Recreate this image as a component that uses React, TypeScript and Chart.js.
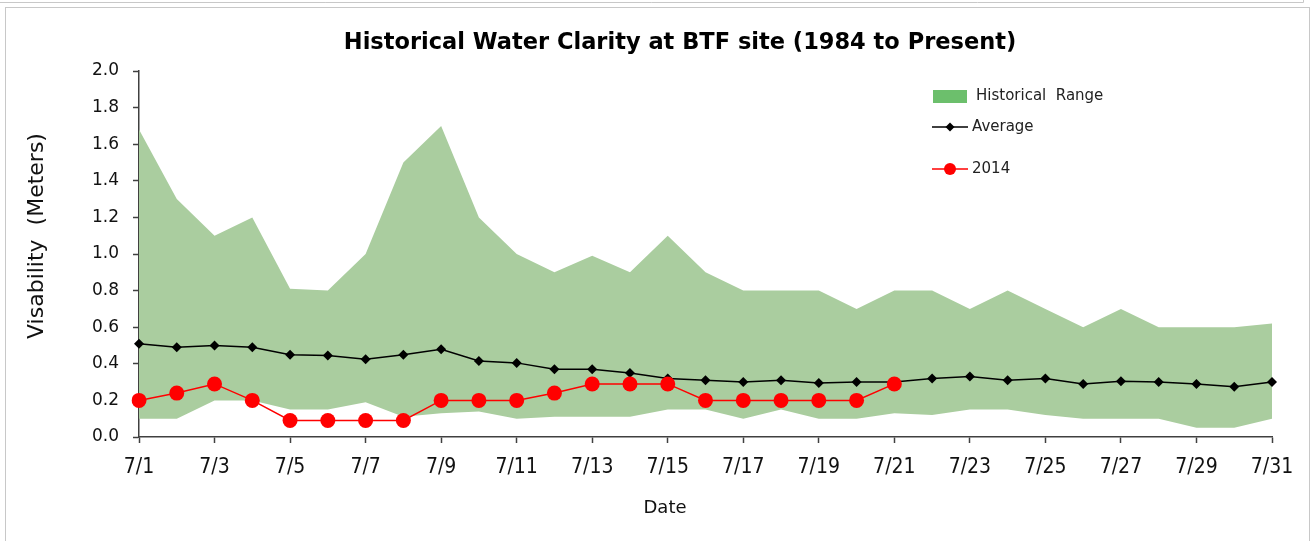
import React, { useEffect, useRef } from "react";
import { Chart, registerables } from "chart.js";

Chart.register(...registerables);

const dates = [
  "7/1", "7/2", "7/3", "7/4", "7/5", "7/6", "7/7", "7/8", "7/9", "7/10",
  "7/11", "7/12", "7/13", "7/14", "7/15", "7/16", "7/17", "7/18", "7/19", "7/20",
  "7/21", "7/22", "7/23", "7/24", "7/25", "7/26", "7/27", "7/28", "7/29", "7/30", "7/31",
];

const rangeHigh = [
  1.68, 1.30, 1.10, 1.20, 0.81, 0.80, 1.00, 1.50, 1.70, 1.20, 1.00,
  0.90, 0.99, 0.90, 1.10, 0.90, 0.80, 0.80, 0.80, 0.70, 0.80,
  0.80, 0.70, 0.80, 0.70, 0.60, 0.70, 0.60, 0.60, 0.60, 0.62,
];

const rangeLow = [
  0.10, 0.10, 0.20, 0.20, 0.15, 0.15, 0.19, 0.11, 0.13, 0.14, 0.10,
  0.11, 0.11, 0.11, 0.15, 0.15, 0.10, 0.15, 0.10, 0.10, 0.13,
  0.12, 0.15, 0.15, 0.12, 0.10, 0.10, 0.10, 0.05, 0.05, 0.10,
];

const average = [
  0.51, 0.49, 0.50, 0.49, 0.45, 0.445, 0.425, 0.45, 0.48, 0.415, 0.405,
  0.37, 0.37, 0.35, 0.32, 0.31, 0.30, 0.31, 0.295, 0.30, 0.30,
  0.32, 0.33, 0.31, 0.32, 0.29, 0.305, 0.30, 0.29, 0.275, 0.30,
];

const year2014 = [
  0.2, 0.24, 0.29, 0.2, 0.09, 0.09, 0.09, 0.09, 0.2, 0.2, 0.2,
  0.24, 0.29, 0.29, 0.29, 0.2, 0.2, 0.2, 0.2, 0.2, 0.29,
  null, null, null, null, null, null, null, null, null, null,
];

const TITLE = "Historical Water Clarity at BTF site (1984 to Present)";
const Y_TITLE = "Visability  (Meters)";
const X_TITLE = "Date";
const LEGEND_RANGE = "Historical  Range";
const LEGEND_AVG = "Average";
const LEGEND_2014 = "2014";

const FONT = "'DejaVu Sans', sans-serif";
const FONT_COND = "'DejaVu Sans Condensed', 'DejaVu Sans', sans-serif";
const RANGE_FILL = "#aacd9f";

const framePlugin = {
  id: "frame",
  beforeDraw(chart: any) {
    const ctx = chart.ctx;
    ctx.save();
    ctx.fillStyle = "#ffffff";
    ctx.fillRect(0, 0, chart.width, chart.height);
    ctx.strokeStyle = "#c8c8c8";
    ctx.lineWidth = 1;
    ctx.beginPath();
    ctx.moveTo(0, 2.5);
    ctx.lineTo(1303.5, 2.5);
    ctx.lineTo(1303.5, 0);
    ctx.stroke();
    ctx.strokeRect(5.5, 7.5, 1304, 545);
    ctx.restore();
  },
};

const decorPlugin = {
  id: "decor",
  afterDraw(chart: any) {
    const ctx = chart.ctx;
    ctx.save();
    // chart title
    ctx.fillStyle = "#000000";
    ctx.font = `bold 22.5px ${FONT}`;
    ctx.textAlign = "center";
    ctx.textBaseline = "middle";
    ctx.fillText(TITLE, 680, 43);

    // axis titles
    ctx.fillStyle = "#111111";
    ctx.font = `18px ${FONT}`;
    ctx.fillText(X_TITLE, 665, 508);
    ctx.save();
    ctx.translate(37, 236);
    ctx.rotate(-Math.PI / 2);
    ctx.font = `22px ${FONT}`;
    ctx.fillText(Y_TITLE, 0, 0);
    ctx.restore();

    // legend
    ctx.font = `15px ${FONT}`;
    ctx.textAlign = "left";
    ctx.fillStyle = "#6cbf6c";
    ctx.fillRect(933, 90, 34, 13);
    ctx.fillStyle = "#222222";
    ctx.fillText(LEGEND_RANGE, 976, 96);

    ctx.strokeStyle = "#000000";
    ctx.lineWidth = 1.5;
    ctx.beginPath();
    ctx.moveTo(932, 127);
    ctx.lineTo(968, 127);
    ctx.stroke();
    ctx.fillStyle = "#000000";
    ctx.beginPath();
    ctx.moveTo(950, 122.5);
    ctx.lineTo(954.5, 127);
    ctx.lineTo(950, 131.5);
    ctx.lineTo(945.5, 127);
    ctx.closePath();
    ctx.fill();
    ctx.fillStyle = "#222222";
    ctx.fillText(LEGEND_AVG, 972, 127);

    ctx.strokeStyle = "#ff0000";
    ctx.beginPath();
    ctx.moveTo(932, 169);
    ctx.lineTo(968, 169);
    ctx.stroke();
    ctx.fillStyle = "#ff0000";
    ctx.beginPath();
    ctx.arc(950, 169, 6, 0, Math.PI * 2);
    ctx.fill();
    ctx.fillStyle = "#222222";
    ctx.fillText(LEGEND_2014, 972, 169);
    ctx.restore();
  },
};

export default function App() {
  const canvasRef = useRef<HTMLCanvasElement | null>(null);

  useEffect(() => {
    document.body.style.margin = "0";
    const canvas = canvasRef.current;
    if (!canvas) return;
    const chart = new Chart(canvas, {
      type: "line",
      data: {
        labels: dates,
        datasets: [
          {
            label: "2014",
            data: year2014,
            borderColor: "#ff0000",
            backgroundColor: "#ff0000",
            borderWidth: 1.5,
            pointRadius: 7.5,
            pointStyle: "circle",
            pointBorderWidth: 0,
            fill: false,
            order: 0,
            spanGaps: false,
          },
          {
            label: "Average",
            data: average,
            borderColor: "#000000",
            backgroundColor: "#000000",
            borderWidth: 1.5,
            pointRadius: 5,
            pointStyle: "rectRot",
            pointBorderWidth: 0,
            fill: false,
            order: 1,
          },
          {
            label: "Historical Range",
            data: rangeHigh,
            borderWidth: 0,
            borderColor: "rgba(0,0,0,0)",
            backgroundColor: RANGE_FILL,
            pointRadius: 0,
            fill: "+1",
            order: 2,
          },
          {
            label: "Range Low",
            data: rangeLow,
            borderWidth: 0,
            borderColor: "rgba(0,0,0,0)",
            backgroundColor: "rgba(0,0,0,0)",
            pointRadius: 0,
            fill: false,
            order: 3,
          },
        ],
      },
      options: {
        responsive: false,
        animation: false,
        events: [],
        layout: { padding: { left: 0, right: 42, top: 71, bottom: 0 } },
        plugins: {
          legend: { display: false },
          title: { display: false },
          tooltip: { enabled: false },
          filler: { drawTime: "beforeDatasetsDraw" },
        },
        scales: {
          x: {
            type: "category",
            offset: false,
            border: { color: "#404040", width: 1.5 },
            grid: {
              drawOnChartArea: false,
              drawTicks: true,
              tickLength: 6,
              tickWidth: 1.5,
              tickColor: (c: any) => (c.index % 2 === 0 ? "#404040" : "rgba(0,0,0,0)"),
            },
            ticks: {
              autoSkip: false,
              maxRotation: 0,
              minRotation: 0,
              padding: 12,
              color: "#111111",
              font: { family: FONT_COND, size: 21 },
              callback: (_v: any, i: number) => (i % 2 === 0 ? dates[i] : ""),
            },
            afterFit: (s: any) => {
              s.height = 104;
            },
          },
          y: {
            min: 0,
            max: 2,
            border: { color: "#404040", width: 1.5 },
            grid: {
              drawOnChartArea: false,
              drawTicks: true,
              tickLength: 6,
              tickWidth: 1.5,
              tickColor: "#404040",
            },
            ticks: {
              stepSize: 0.2,
              padding: 14,
              color: "#111111",
              font: { family: FONT, size: 17 },
              callback: (v: any) => Number(v).toFixed(1),
            },
            afterFit: (s: any) => {
              s.width = 139;
            },
          },
        },
      },
      plugins: [framePlugin, decorPlugin],
    });
    return () => chart.destroy();
  }, []);

  return (
    <div style={{ width: 1314, height: 541, position: "relative" }}>
      <canvas ref={canvasRef} width={1314} height={541} style={{ width: 1314, height: 541, display: "block" }} />
    </div>
  );
}
